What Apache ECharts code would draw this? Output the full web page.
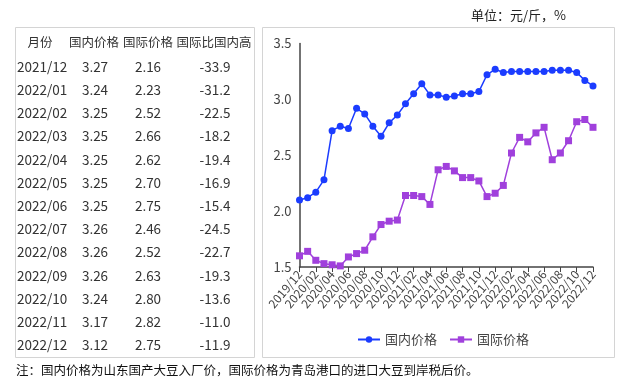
<!DOCTYPE html>
<html>
<head>
<meta charset="utf-8">
<script src="https://cdn.jsdelivr.net/npm/echarts@6/dist/echarts.min.js"></script>
<style>
html,body{margin:0;padding:0;background:#fff;}
#c{width:626px;height:381px;}
</style>
</head>
<body>
<div id="c"></div>
<script>
var categories = ["2019/12","2020/01","2020/02","2020/03","2020/04","2020/05","2020/06","2020/07","2020/08","2020/09","2020/10","2020/11","2020/12",
  "2021/01","2021/02","2021/03","2021/04","2021/05","2021/06","2021/07","2021/08","2021/09","2021/10","2021/11","2021/12",
  "2022/01","2022/02","2022/03","2022/04","2022/05","2022/06","2022/07","2022/08","2022/09","2022/10","2022/11","2022/12"];
var domestic = [2.10,2.12,2.17,2.28,2.72,2.76,2.74,2.92,2.87,2.76,2.67,2.79,2.86,2.96,3.05,3.14,3.04,3.04,3.02,3.03,3.05,3.05,3.07,3.22,3.27,3.24,3.25,3.25,3.25,3.25,3.25,3.26,3.26,3.26,3.24,3.17,3.12];
var international = [1.60,1.64,1.56,1.53,1.52,1.51,1.59,1.62,1.65,1.77,1.88,1.91,1.92,2.14,2.14,2.13,2.06,2.37,2.40,2.36,2.30,2.30,2.27,2.13,2.16,2.23,2.52,2.66,2.62,2.70,2.75,2.46,2.52,2.63,2.80,2.82,2.75];

var tableHeader = ["月份","国内价格","国际价格","国际比国内高"];
var tableMonths = ["2021/12","2022/01","2022/02","2022/03","2022/04","2022/05","2022/06","2022/07","2022/08","2022/09","2022/10","2022/11","2022/12"];
var tableDomestic = ["3.27","3.24","3.25","3.25","3.25","3.25","3.25","3.26","3.26","3.26","3.24","3.17","3.12"];
var tableInternational = ["2.16","2.23","2.52","2.66","2.62","2.70","2.75","2.46","2.52","2.63","2.80","2.82","2.75"];
var tableRatio = ["-33.9","-31.2","-22.5","-18.2","-19.4","-16.9","-15.4","-24.5","-22.7","-19.3","-13.6","-11.0","-11.9"];

var seriesNames = ["国内价格","国际价格"];
var unitText = "单位：元/斤，%";
var noteText = "注：国内价格为山东国产大豆入厂价，国际价格为青岛港口的进口大豆到岸税后价。";

var FONT = '"Noto Sans CJK SC", "Noto Sans", sans-serif';
var BLUE = '#1b3cff';
var PURPLE = '#a040dc';

var graphics = [];
graphics.push({type:'rect', shape:{x:15.5,y:27.5,width:239,height:330}, style:{fill:'none',stroke:'#d4d4d4',lineWidth:1}, silent:true});
graphics.push({type:'rect', shape:{x:262.5,y:27.5,width:352,height:330}, style:{fill:'none',stroke:'#d4d4d4',lineWidth:1}, silent:true});
var colX = [40, 94, 148, 214];
tableHeader.forEach(function(h,i){
  graphics.push({type:'text', x:colX[i], y:42, style:{text:h, fill:'#333', font:'12.5px '+FONT, textAlign:'center', textVerticalAlign:'middle'}});
});
for (var r=0;r<tableMonths.length;r++){
  var yy = 66.7 + r*23.2;
  graphics.push({type:'text', x:17, y:yy, style:{text:tableMonths[r], fill:'#333', font:'13.5px '+FONT, textAlign:'left', textVerticalAlign:'middle'}});
  graphics.push({type:'text', x:95, y:yy, style:{text:tableDomestic[r], fill:'#333', font:'13.5px '+FONT, textAlign:'center', textVerticalAlign:'middle'}});
  graphics.push({type:'text', x:148, y:yy, style:{text:tableInternational[r], fill:'#333', font:'13.5px '+FONT, textAlign:'center', textVerticalAlign:'middle'}});
  graphics.push({type:'text', x:215, y:yy, style:{text:tableRatio[r], fill:'#333', font:'13.5px '+FONT, textAlign:'center', textVerticalAlign:'middle'}});
}
graphics.push({type:'text', x:471, y:15, style:{text:unitText, fill:'#222', font:'13px '+FONT, textAlign:'left', textVerticalAlign:'middle'}});
graphics.push({type:'text', x:16, y:370, style:{text:noteText, fill:'#111', font:'12.5px '+FONT, textAlign:'left', textVerticalAlign:'middle'}});

var chart = echarts.init(document.getElementById('c'));
chart.setOption({
  animation:false,
  backgroundColor:'#fff',
  graphic: graphics,
  grid:{left:299.5, right:33, top:43.5, bottom:114, containLabel:false},
  legend:{
    data:seriesNames, left:352, top:328, itemWidth:22, itemHeight:8, itemGap:12,
    textStyle:{fontFamily:FONT, fontSize:13, color:'#444'}
  },
  xAxis:{
    type:'category', data:categories, boundaryGap:false,
    axisLine:{lineStyle:{color:'#444', width:1.5}},
    axisTick:{show:true, interval:1, length:5, lineStyle:{color:'#444'}},
    axisLabel:{interval:1, rotate:50, fontFamily:FONT, fontSize:12, color:'#444', margin:5,
      hideOverlap:false}
  },
  yAxis:{
    type:'value', min:1.5, max:3.5, interval:0.5,
    axisLine:{show:true, lineStyle:{color:'#444', width:1.5}},
    axisTick:{show:false},
    splitLine:{show:false},
    axisLabel:{fontFamily:FONT, fontSize:13, color:'#444', margin:8, formatter:function(v){return v.toFixed(1);}}
  },
  series:[
    {name:seriesNames[0], type:'line', data:domestic, symbol:'circle', symbolSize:7, showAllSymbol:true,
     itemStyle:{color:BLUE}, lineStyle:{color:BLUE, width:1.5}},
    {name:seriesNames[1], type:'line', data:international, symbol:'rect', symbolSize:7, showAllSymbol:true,
     itemStyle:{color:PURPLE}, lineStyle:{color:PURPLE, width:1.5}}
  ]
});
</script>
</body>
</html>
